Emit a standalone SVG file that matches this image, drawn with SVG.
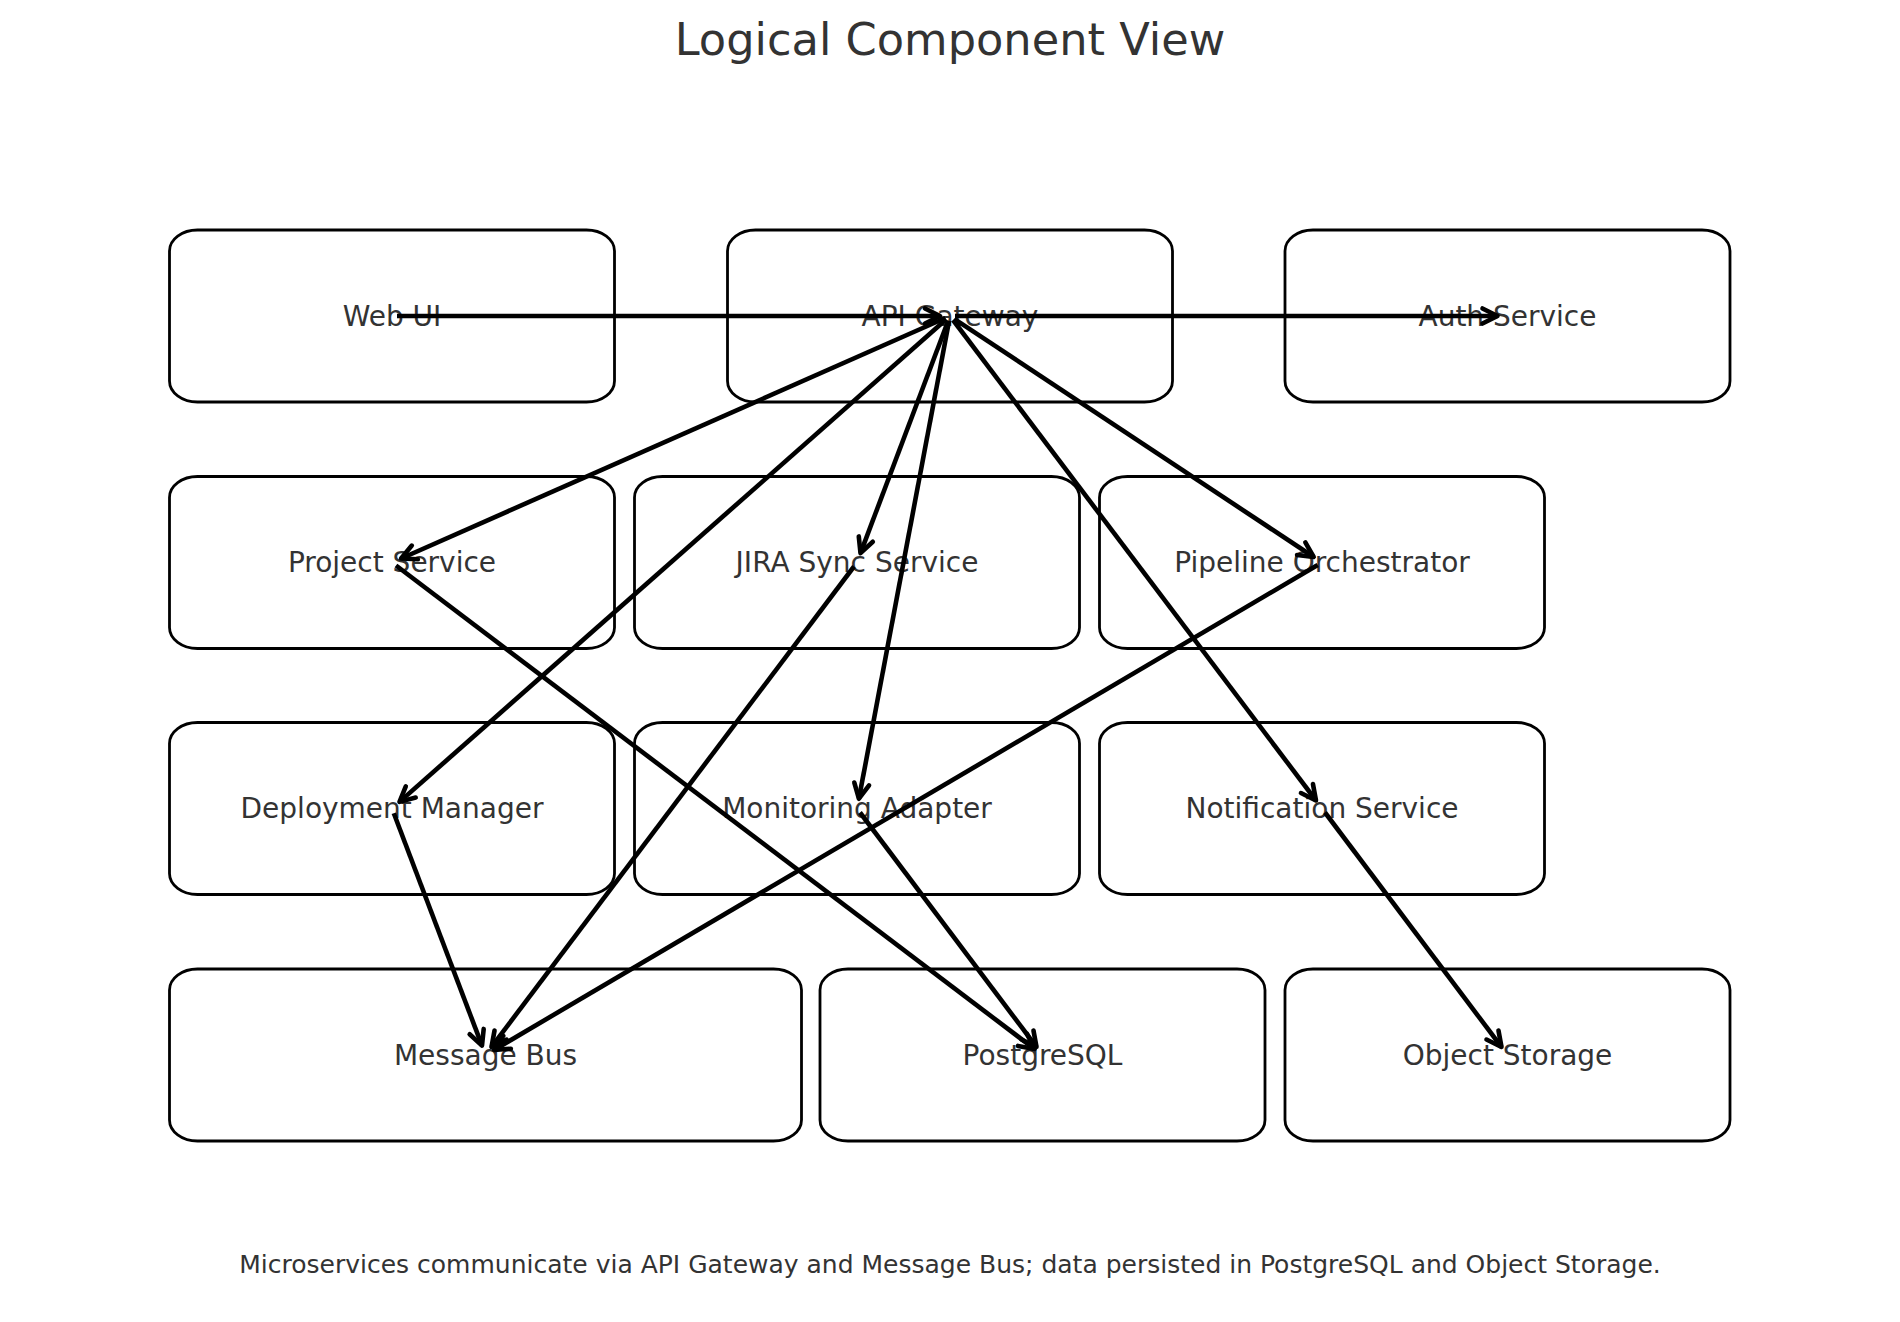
<svg xmlns="http://www.w3.org/2000/svg" width="1900" height="1322" viewBox="0 0 1900 1322">
<style>
.box{fill:#fff;stroke:#000;stroke-width:2.8}
.lbl{font-family:"DejaVu Sans","Liberation Sans",sans-serif;font-size:28px;fill:#333;text-anchor:middle}
.title{font-family:"DejaVu Sans","Liberation Sans",sans-serif;font-size:44.7px;fill:#333;text-anchor:middle}
.foot{font-family:"DejaVu Sans","Liberation Sans",sans-serif;font-size:25px;fill:#333;text-anchor:middle}
.edge{stroke:#000;stroke-width:4.6;fill:none;marker-end:url(#ah)}
</style>
<defs>
<marker id="ah" markerUnits="userSpaceOnUse" markerWidth="40" markerHeight="40" viewBox="-20 -20 40 40" refX="0" refY="0" orient="auto" overflow="visible">
<path d="M-15,-7.5 L0,0 L-15,7.5" fill="none" stroke="#000" stroke-width="4.6" stroke-linecap="round" stroke-linejoin="round"/>
</marker>
</defs>
<rect width="1900" height="1322" fill="#fff"/>
<text class="title" x="950" y="55">Logical Component View</text>
<g id="web-ui"><rect class="box" x="169.5" y="230" width="445" height="172" rx="28" ry="21"/><text class="lbl" x="392" y="325.5">Web UI</text></g>
<g id="api-gateway"><rect class="box" x="727.5" y="230" width="445" height="172" rx="28" ry="21"/><text class="lbl" x="950" y="325.5">API Gateway</text></g>
<g id="auth-service"><rect class="box" x="1285" y="230" width="445" height="172" rx="28" ry="21"/><text class="lbl" x="1507.5" y="325.5">Auth Service</text></g>
<g id="project-service"><rect class="box" x="169.5" y="476.5" width="445" height="172" rx="28" ry="21"/><text class="lbl" x="392" y="572">Project Service</text></g>
<g id="jira-sync-service"><rect class="box" x="634.5" y="476.5" width="445" height="172" rx="28" ry="21"/><text class="lbl" x="857" y="572">JIRA Sync Service</text></g>
<g id="pipeline-orchestrator"><rect class="box" x="1099.5" y="476.5" width="445" height="172" rx="28" ry="21"/><text class="lbl" x="1322" y="572">Pipeline Orchestrator</text></g>
<g id="deployment-manager"><rect class="box" x="169.5" y="722.5" width="445" height="172" rx="28" ry="21"/><text class="lbl" x="392" y="818">Deployment Manager</text></g>
<g id="monitoring-adapter"><rect class="box" x="634.5" y="722.5" width="445" height="172" rx="28" ry="21"/><text class="lbl" x="857" y="818">Monitoring Adapter</text></g>
<g id="notification-service"><rect class="box" x="1099.5" y="722.5" width="445" height="172" rx="28" ry="21"/><text class="lbl" x="1322" y="818">Notification Service</text></g>
<g id="message-bus"><rect class="box" x="169.5" y="969" width="632" height="172" rx="28" ry="21"/><text class="lbl" x="485.5" y="1064.5">Message Bus</text></g>
<g id="postgresql"><rect class="box" x="820" y="969" width="445" height="172" rx="28" ry="21"/><text class="lbl" x="1042.5" y="1064.5">PostgreSQL</text></g>
<g id="object-storage"><rect class="box" x="1285" y="969" width="445" height="172" rx="28" ry="21"/><text class="lbl" x="1507.5" y="1064.5">Object Storage</text></g>
<g id="connectors">
<line class="edge" x1="397" y1="316" x2="940" y2="316"/>
<line class="edge" x1="955" y1="316" x2="1497.5" y2="316"/>
<line class="edge" x1="945.4" y1="318" x2="401.1" y2="558.5"/>
<line class="edge" x1="946.3" y1="319.3" x2="399.5" y2="801.9"/>
<line class="edge" x1="948.2" y1="320.7" x2="860.5" y2="553.1"/>
<line class="edge" x1="949.1" y1="320.9" x2="858.9" y2="798.7"/>
<line class="edge" x1="954.2" y1="318.8" x2="1313.7" y2="557"/>
<line class="edge" x1="953" y1="320" x2="1316" y2="800.5"/>
<line class="edge" x1="396" y1="565.5" x2="1034.5" y2="1049"/>
<line class="edge" x1="854" y1="566.5" x2="491.5" y2="1047"/>
<line class="edge" x1="1317.7" y1="565" x2="494.1" y2="1049.9"/>
<line class="edge" x1="393.8" y1="813.2" x2="482" y2="1045.6"/>
<line class="edge" x1="860" y1="812.5" x2="1036.5" y2="1047"/>
<line class="edge" x1="1325" y1="812.5" x2="1501.5" y2="1047"/>
</g>
<text class="foot" x="950" y="1273">Microservices communicate via API Gateway and Message Bus; data persisted in PostgreSQL and Object Storage.</text>
</svg>
